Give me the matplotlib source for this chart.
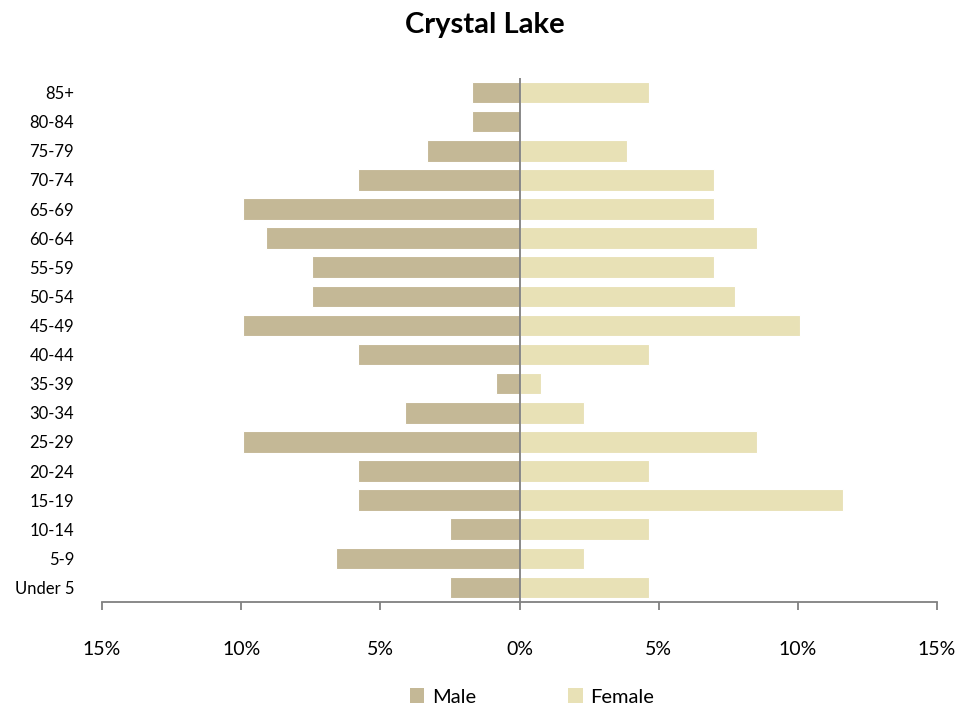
import matplotlib
matplotlib.use("Agg")
import matplotlib.pyplot as plt
from matplotlib.patches import Patch
from matplotlib.ticker import FuncFormatter

plt.rcParams['font.family'] = ['Lato', 'DejaVu Sans']

age_groups = ["Under 5", "5-9", "10-14", "15-19", "20-24", "25-29", "30-34", "35-39",
              "40-44", "45-49", "50-54", "55-59", "60-64", "65-69", "70-74", "75-79",
              "80-84", "85+"]
male = [2.48, 6.61, 2.48, 5.79, 5.79, 9.95, 4.13, 0.83, 5.79, 9.95, 7.44, 7.44,
        9.09, 9.95, 5.79, 3.31, 1.69, 1.69]
female = [4.65, 2.33, 4.65, 11.63, 4.65, 8.53, 2.33, 0.78, 4.65, 10.08, 7.75, 6.98,
          8.53, 6.98, 6.98, 3.88, 0.0, 4.65]
x_ticks = [-15, -10, -5, 0, 5, 10, 15]

male_color = "#C4B896"
female_color = "#E8E1B6"

fig = plt.figure(figsize=(9.79, 7.13), dpi=100)
ax = fig.add_axes([102/979, 1-602/713, (937-102)/979, (602-78)/713])

y = list(range(len(age_groups)))
ax.barh(y, [-m for m in male], height=0.74, color=male_color, edgecolor="white", linewidth=0.8, label="Male")
ax.barh(y, female, height=0.74, color=female_color, edgecolor="white", linewidth=0.8, label="Female")

ax.set_xlim(-15, 15)
ax.set_ylim(-0.5, 17.5)
ax.axvline(0, color="#808080", linewidth=1.3)

ax.set_xticks(x_ticks)
ax.xaxis.set_major_formatter(FuncFormatter(lambda v, p: f"{abs(int(round(v)))}%"))
ax.set_yticks(y)
ax.set_yticklabels(age_groups)

for s in ["left", "right", "top"]:
    ax.spines[s].set_visible(False)
ax.spines["bottom"].set_color("#808080")
ax.spines["bottom"].set_linewidth(1.3)
ax.tick_params(axis="y", length=0, labelsize=12, pad=20)
ax.tick_params(axis="x", direction="out", length=6, color="#808080", width=1.3, labelsize=14, pad=22)

fig.suptitle("Crystal Lake", x=485/979, y=1-25/713, va="center", fontsize=21, fontweight="bold")

handles = [Patch(facecolor=male_color, label="Male"), Patch(facecolor=female_color, label="Female")]
fig.legend(handles=handles, loc="center", bbox_to_anchor=(532/979, 1-697/713), ncol=2,
           frameon=False, fontsize=14.5, handlelength=0.7, handleheight=0.7, columnspacing=4.6, handletextpad=0.4)

fig.savefig("out.png", dpi=100)
